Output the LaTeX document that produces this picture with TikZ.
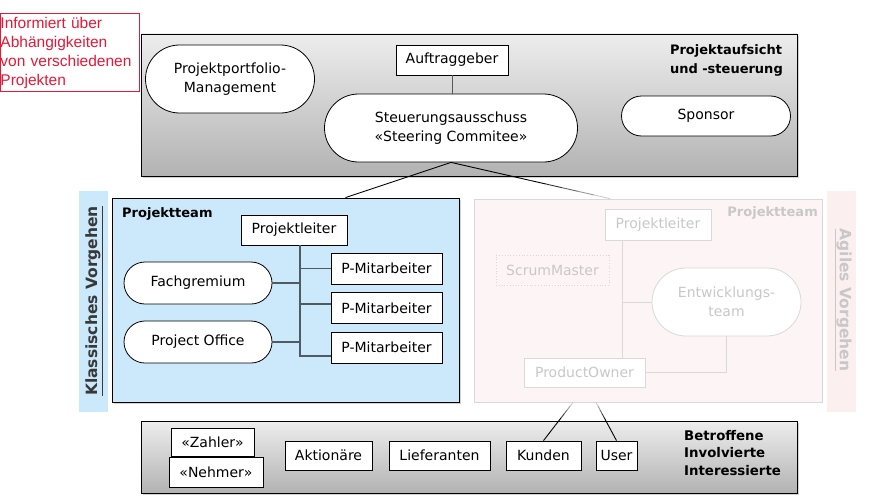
\documentclass[tikz,border=0pt]{standalone}
\usepackage{fontspec}
\setmainfont{DejaVu Sans}
\newfontfamily\notefont{Liberation Sans}
\usetikzlibrary{positioning,shapes.misc,shadows,calc}
\definecolor{notered}{HTML}{E31937}
\definecolor{klassblue}{HTML}{CCE9FB}
\definecolor{agilepink}{HTML}{FCEFEF}
\definecolor{agilefill}{HTML}{FDF5F5}
\definecolor{fadegray}{HTML}{D9D9D9}
\definecolor{fadetext}{HTML}{C8C8C8}
\definecolor{linkslate}{HTML}{4F5B62}
\tikzset{
  box/.style={draw,rectangle,fill=white,line width=0.8pt,minimum height=30pt,inner sep=2pt,font=\fontsize{14}{19}\selectfont},
  role/.style={draw,rounded rectangle,fill=white,line width=0.8pt,inner sep=2pt,align=center,font=\fontsize{14}{19}\selectfont},
  area/.style={draw,line width=0.8pt,drop shadow={shadow xshift=2pt,shadow yshift=-2pt,opacity=0.35}},
  greyarea/.style={area,top color=black!7,bottom color=black!30},
  faded/.style={draw=fadegray,text=fadetext},
  headline/.style={inner sep=0pt,align=left,font=\bfseries\fontsize{13}{19}\selectfont},
  link/.style={draw=linkslate,line width=1.5pt},
  fadelink/.style={draw=fadegray,line width=1pt},
}
\begin{document}
\begin{tikzpicture}[x=1pt,y=-1pt]
\useasboundingbox (0,0) rectangle (890,503);
% Projektaufsicht
\node (aufsicht) at (469,105) [greyarea,minimum width=656pt,minimum height=142pt] {};
\node (portfolio) at (230,79) [role,minimum width=173pt,minimum height=68pt] {Projektportfolio-\\Management};
\node (auftrag) at (452,60) [box,minimum width=112pt] {Auftraggeber};
\node (steuer) at (451,128) [role,minimum width=257pt,minimum height=68pt] {Steuerungsausschuss\\«Steering Commitee»};
\node (sponsor) at (706,116) [role,minimum width=173pt,minimum height=40pt] {Sponsor};
\node (aufsichttitel) at (783,60) [headline,anchor=east] {Projektaufsicht\\und -steuerung};
\draw [black!65,line width=0.8pt] (auftrag.south) -- (auftrag.south |- steuer.north);
% Hinweis
\node (hinweis) at (0,13) [anchor=north west,draw=notered,line width=1pt,text=notered,align=left,inner sep=0pt,text width=139pt,minimum height=78pt,font=\notefont\fontsize{15.5}{19}\selectfont] {Informiert über\\Abhängigkeiten\\von verschiedenen\\Projekten};
% Klassisches Vorgehen
\node (klassband) at (93.5,301.5) [fill=klassblue,minimum width=29pt,minimum height=221pt] {};
\node (klasslabel) at (94,301) [rotate=90,text=black!78,font=\bfseries\fontsize{15.5}{18}\selectfont] {\underline{Klassisches Vorgehen}};
\node (klass) at (285.5,300) [area,fill=klassblue,minimum width=347pt,minimum height=204pt] {};
\node (klassteam) at (122,214) [headline,anchor=west] {Projektteam};
\node (pl) at (294,230) [box,minimum width=106pt] {Projektleiter};
\node (pm1) at (386.5,268.5) [box,minimum width=111pt,minimum height=31pt] {P-Mitarbeiter};
\node (pm2) at (386.5,308) [box,minimum width=111pt,minimum height=31pt] {P-Mitarbeiter};
\node (pm3) at (386.5,347.5) [box,minimum width=111pt,minimum height=31pt] {P-Mitarbeiter};
\node (fach) at (198,283) [role,minimum width=152pt,minimum height=42pt] {Fachgremium};
\node (office) at (198,342) [role,minimum width=152pt,minimum height=42pt] {Project Office};
\coordinate (stamm) at (300,245);
\draw [link] (pl.south -| stamm) -- ([yshift=-8.5pt]pm3.west -| stamm) -- ([yshift=-8.5pt]pm3.west);
\draw [link] (pm1.west) -- (pm1.west -| stamm);
\draw [link] ([yshift=4pt]pm2.west) -- ([yshift=4pt]pm2.west -| stamm);
\draw [link] (fach.east) -- (fach.east -| stamm);
\draw [link] (office.east) -- (office.east -| stamm);
% Agiles Vorgehen
\node (agilband) at (841.5,301.5) [fill=agilepink,minimum width=29pt,minimum height=221pt] {};
\node (agillabel) at (843,300) [rotate=-90,text=fadetext,font=\bfseries\fontsize{15.5}{18}\selectfont] {\underline{Agiles Vorgehen}};
\node (agil) at (648,300.5) [draw=fadegray,fill=agilefill,line width=0.8pt,minimum width=348pt,minimum height=203pt] {};
\node (agilteam) at (818,213) [headline,anchor=east,text=fadetext] {Projektteam};
\node (apl) at (658,225) [box,faded,minimum width=106pt,minimum height=31pt] {Projektleiter};
\node (scrum) at (552.5,270) [box,faded,fill=none,dotted,minimum width=113pt] {ScrumMaster};
\node (entw) at (726.5,302) [role,faded,minimum width=153pt,minimum height=68pt] {Entwicklungs-\\team};
\node (po) at (584.5,372.5) [box,faded,minimum width=121pt,minimum height=29pt] {ProductOwner};
\coordinate (astamm) at (622,240);
\draw [fadelink] (apl.south -| astamm) -- (po.north -| astamm);
\draw [fadelink] (entw.west) -- (entw.west -| astamm);
\draw [fadelink] (po.east) -| (entw.south);
% Betroffene
\node (betroffen) at (469,457) [greyarea,minimum width=656pt,minimum height=72pt] {};
\node (zahler) at (212.5,442) [box,minimum width=83pt,minimum height=28pt] {«Zahler»};
\node (nehmer) at (216,472) [box,minimum width=94pt] {«Nehmer»};
\node (aktion) at (328.5,455.5) [box,minimum width=87pt,minimum height=29pt] {Aktionäre};
\node (liefer) at (439.5,455.5) [box,minimum width=101pt,minimum height=29pt] {Lieferanten};
\node (kunden) at (543.5,455.5) [box,minimum width=75pt,minimum height=29pt] {Kunden};
\node (user) at (616.5,455.5) [box,minimum width=41pt,minimum height=29pt] {User};
\node (betrtitel) at (684,453) [headline,anchor=west,font=\bfseries\fontsize{13.3}{17.5}\selectfont] {Betroffene\\Involvierte\\Interessierte};
% Verbindungen mit Verlauf
\coordinate (klassende) at ([xshift=60pt]klass.north);
\coordinate (agilende) at ([xshift=-38pt]agil.north);
\coordinate (pokunde) at ([xshift=-75pt]agil.south);
\coordinate (pouser) at ([xshift=-52pt]agil.south);
\draw [line width=0.9pt] (steuer.south) -- (klassende);
\foreach \i [evaluate=\i as \u using \i/10, evaluate=\i as \v using (\i+1)/10, evaluate=\i as \c using {int(min(100,200-20*\i))}] in {0,...,9}
  \draw [black!\c,line width=0.9pt] ($(steuer.south)!\u!(agilende)$) -- ($(steuer.south)!\v!(agilende)$);
\foreach \i [evaluate=\i as \u using \i/10, evaluate=\i as \v using (\i+1)/10, evaluate=\i as \c using {int(min(100,20+20*\i))}] in {0,...,9}{
  \draw [black!\c,line width=0.9pt] ($(pokunde)!\u!(kunden.north)$) -- ($(pokunde)!\v!(kunden.north)$);
  \draw [black!\c,line width=0.9pt] ($(pouser)!\u!(user.north)$) -- ($(pouser)!\v!(user.north)$);
}
\end{tikzpicture}
\end{document}
